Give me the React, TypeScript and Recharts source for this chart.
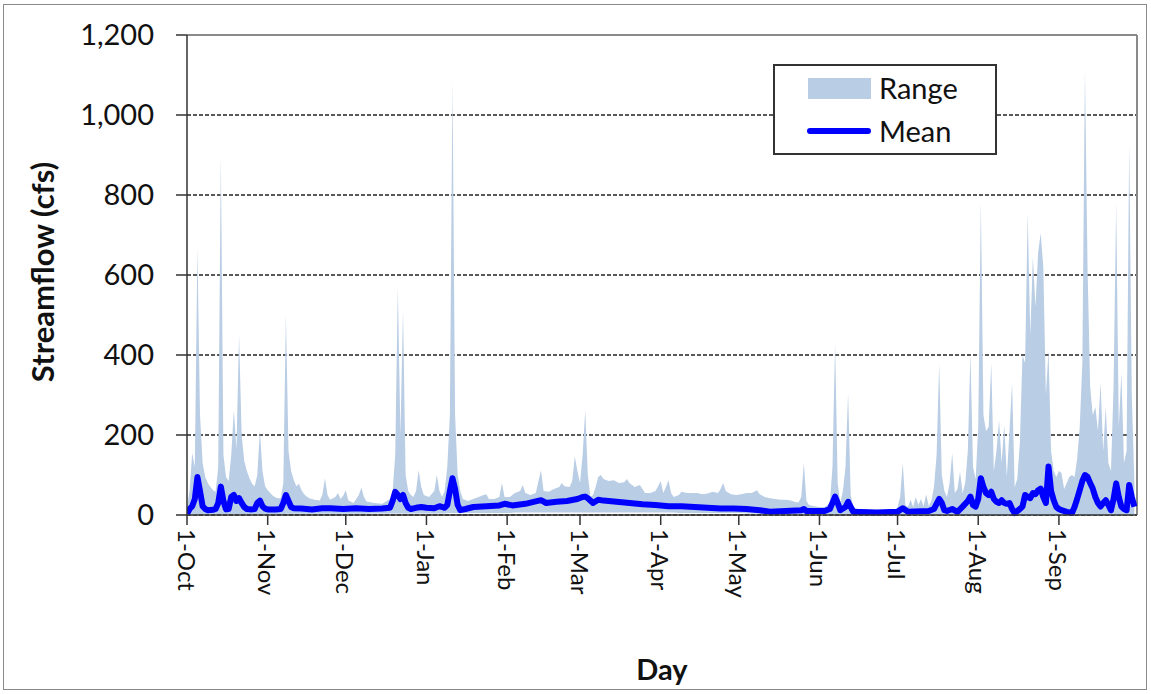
import {
  ComposedChart,
  Area,
  Line,
  XAxis,
  YAxis,
  CartesianGrid,
  ReferenceLine,
} from 'recharts';

// Water-year day index (0 = 1-Oct), month tick positions and labels
const tickDays = [0, 31, 61, 92, 123, 151, 182, 212, 243, 273, 304, 335];
const tickLabels = ['1-Oct', '1-Nov', '1-Dec', '1-Jan', '1-Feb', '1-Mar', '1-Apr', '1-May', '1-Jun', '1-Jul', '1-Aug', '1-Sep'];
const yTicks = [0, 200, 400, 600, 800, 1000, 1200];

// Range (min / max daily streamflow, cfs)
const rangeDays = [
  0, 1, 2, 3, 4, 5, 6, 7, 8, 9, 10, 11, 12, 13, 14, 15, 16, 17, 18, 19, 20, 21, 22, 23, 24, 25, 26, 27, 28, 29,
  30, 31, 32, 33, 34, 35, 36, 37, 38, 39, 40, 41, 42, 43, 44, 45, 46, 47, 49, 51, 52, 53, 54, 55, 57, 58, 59, 60,
  61, 62, 64, 66, 67, 68, 69, 72, 75, 78, 79, 80, 81, 82, 83, 84, 85, 86, 87, 88, 89, 90, 91, 93, 95, 96, 97, 98,
  99, 100, 101, 102, 103, 104, 105, 106, 108, 110, 112, 114, 115, 116, 118, 120, 121, 122, 124, 126, 128, 129,
  130, 132, 134, 136, 137, 139, 141, 143, 144, 145, 147, 148, 149, 150, 151, 152, 153, 154, 155, 156, 157, 158,
  159, 160, 162, 164, 166, 168, 169, 170, 172, 174, 175, 176, 178, 180, 181, 182, 183, 184, 185, 186, 187, 189,
  190, 192, 194, 196, 198, 200, 202, 204, 205, 206, 207, 209, 211, 213, 215, 217, 219, 220, 222, 224, 226, 228,
  230, 232, 234, 235, 236, 237, 238, 239, 241, 243, 245, 247, 248, 249, 250, 251, 252, 253, 254, 255, 256, 258,
  260, 264, 268, 272, 273, 274, 275, 276, 277, 278, 279, 280, 281, 282, 283, 284, 285, 286, 287, 288, 289, 290,
  291, 292, 293, 294, 295, 296, 297, 298, 299, 300, 301, 302, 303, 304, 305, 306, 307, 308, 309, 310, 311, 312,
  313, 314, 315, 316, 317, 318, 319, 320, 321, 322, 323, 324, 325, 326, 327, 328, 329, 330, 331, 332, 333, 334,
  335, 336, 337, 338, 339, 340, 341, 342, 343, 344, 345, 346, 347, 348, 349, 350, 351, 352, 353, 354, 355, 356,
  357, 358, 359, 360, 361, 362, 363, 364,
];
const rangeMax = [
  20, 60, 155, 120, 670, 250, 130, 95, 80, 70, 62, 58, 120, 900, 150, 95, 85, 150, 262, 165, 450, 200, 135, 110, 92, 78, 72, 100, 210, 110,
  72, 62, 55, 48, 44, 42, 42, 80, 500, 160, 110, 88, 72, 78, 62, 52, 46, 42, 38, 36, 50, 92, 50, 38, 45, 55, 40, 48,
  62, 36, 30, 50, 68, 45, 34, 30, 28, 40, 60, 150, 570, 200, 512, 100, 60, 50, 45, 60, 112, 70, 50, 45, 60, 100, 60, 45,
  60, 120, 250, 1085, 250, 100, 60, 40, 35, 40, 45, 50, 52, 40, 40, 45, 80, 45, 45, 55, 60, 75,
  55, 50, 55, 112, 60, 58, 65, 70, 80, 72, 70, 85, 146, 110, 80, 150, 262, 100, 45, 50, 70, 95,
  100, 90, 85, 87, 80, 82, 90, 80, 70, 75, 65, 55, 55, 60, 72, 85, 55, 70, 87, 55, 45, 50,
  58, 55, 55, 55, 52, 54, 58, 55, 65, 80, 60, 52, 50, 52, 55, 55, 62, 52, 45, 42, 40, 38,
  38, 36, 32, 32, 45, 130, 35, 25, 22, 20, 20, 30, 120, 430, 80, 30, 60, 120, 305, 50, 20, 15,
  12, 11, 10, 10, 20, 45, 130, 25, 20, 38, 20, 45, 25, 40, 22, 52, 22, 35, 70, 150, 380, 100,
  60, 45, 80, 155, 55, 65, 108, 55, 80, 160, 405, 120, 90, 220, 785, 250, 210, 220, 380, 110, 160, 237,
  130, 225, 95, 210, 330, 70, 90, 180, 400, 380, 755, 450, 645, 520, 655, 705, 620, 300, 412, 160, 110, 95,
  110, 105, 65, 80, 95, 100, 95, 140, 220, 380, 1112, 620, 320, 250, 270, 210, 330, 160, 270, 130, 110, 320,
  780, 220, 355, 130, 160, 930, 300, 80,
];
const rangeMin = [
  0, 0, 0, 0, 2, 2, 2, 2, 2, 2, 2, 2, 2, 2, 2, 2, 2, 2, 2, 2, 2, 2, 2, 2, 2, 2, 2, 2, 2, 2,
  2, 2, 2, 2, 2, 2, 2, 2, 3, 3, 3, 3, 3, 3, 3, 3, 3, 3, 3, 3, 3, 3, 3, 3, 3, 3, 3, 3,
  3, 3, 3, 3, 3, 3, 3, 4, 4, 4, 4, 4, 4, 4, 4, 4, 4, 4, 4, 4, 4, 4, 4, 4, 4, 4, 4, 4,
  4, 5, 5, 5, 5, 5, 5, 5, 5, 5, 5, 5, 5, 5, 5, 5, 5, 5, 5, 6, 6, 6,
  6, 6, 6, 6, 6, 6, 6, 6, 6, 6, 6, 6, 6, 6, 6, 6, 6, 6, 6, 6, 6, 6,
  6, 6, 6, 6, 6, 6, 6, 6, 6, 6, 6, 6, 6, 6, 6, 6, 6, 6, 6, 6, 6, 5,
  5, 5, 5, 5, 5, 5, 5, 5, 5, 5, 5, 5, 5, 5, 4, 4, 4, 4, 3, 3, 3, 2,
  2, 2, 2, 2, 2, 2, 2, 2, 2, 2, 1, 1, 1, 1, 1, 1, 1, 1, 1, 1, 1, 1,
  0, 0, 0, 0, 0, 0, 0, 0, 0, 0, 0, 0, 0, 0, 0, 0, 0, 0, 0, 0, 0, 0,
  0, 0, 0, 0, 0, 0, 0, 0, 0, 0, 0, 0, 0, 0, 0, 0, 0, 0, 0, 0, 0, 0,
  0, 0, 0, 0, 0, 0, 0, 0, 0, 0, 0, 0, 0, 0, 0, 0, 0, 0, 0, 0, 0, 0,
  0, 0, 0, 0, 0, 0, 0, 0, 0, 0, 0, 0, 0, 0, 0, 0, 0, 0, 0, 0, 0, 0,
  0, 0, 0, 0, 0, 0, 0, 0,
];

// Mean daily streamflow (cfs)
const meanDays = [
  0, 1, 2, 3, 4, 5, 6, 7, 8, 10, 11, 12, 13, 14, 15, 16, 17, 18, 19, 20, 21, 22, 23, 25, 26, 27, 28, 29, 30, 31,
  34, 36, 37, 38, 39, 40, 41, 44, 48, 52, 55, 60, 65, 70, 75, 78, 79, 80, 81, 82, 83, 84, 85, 86, 88, 90, 92,
  95, 97, 99, 100, 101, 102, 103, 104, 105, 107, 110, 115, 120, 122, 125, 130, 136, 138, 142, 146, 150, 152, 153,
  154, 156, 158, 160, 165, 170, 175, 180, 185, 190, 195, 200, 205, 210, 215, 220, 224, 230, 236, 237, 238, 245,
  247, 249, 250, 251, 253, 254, 255, 256, 265, 273, 275, 277, 285, 287, 289, 290, 291, 292, 294, 296, 298, 300,
  301, 302, 303, 304, 305, 306, 307, 308, 309, 310, 311, 312, 313, 314, 315, 316, 317, 318, 319, 320, 321, 322,
  323, 324, 325, 326, 327, 328, 329, 330, 331, 332, 333, 334, 335, 336, 338, 340, 341, 342, 343, 344, 345, 346,
  347, 348, 349, 350, 351, 352, 353, 354, 355, 356, 357, 358, 359, 360, 361, 362, 363, 364,
];
const meanValues = [
  3, 15, 22, 40, 95, 60, 22, 15, 12, 13, 15, 30, 71, 35, 14, 15, 45, 50, 35, 42, 30, 20, 15, 14, 15, 30, 36, 22, 16, 14,
  14, 15, 30, 50, 35, 20, 17, 16, 14, 17, 17, 15, 17, 15, 16, 18, 35, 58, 50, 40, 50, 30, 18, 15, 18, 20, 18,
  17, 22, 18, 25, 60, 92, 65, 25, 12, 15, 20, 22, 24, 28, 24, 28, 37, 30, 33, 35, 40, 45, 46,
  42, 30, 38, 36, 33, 30, 27, 25, 22, 22, 20, 18, 16, 16, 15, 12, 8, 10, 12, 15, 10, 10,
  15, 46, 30, 12, 20, 33, 20, 8, 6, 8, 17, 8, 10, 15, 40, 30, 12, 10, 15, 8, 21, 35,
  46, 25, 21, 40, 92, 70, 55, 50, 58, 40, 33, 30, 37, 30, 28, 30, 15, 5, 10, 15, 21, 50,
  45, 42, 55, 52, 62, 66, 45, 30, 121, 60, 37, 20, 15, 12, 8, 5, 20, 40, 62, 85, 100, 95,
  80, 66, 45, 30, 21, 30, 37, 25, 12, 40, 79, 45, 21, 15, 12, 75, 45, 21,
];

const rangeData = rangeDays.map((day, i) => ({ day, range: [rangeMin[i], rangeMax[i]] }));
const meanData = meanDays.map((day, i) => ({ day, mean: meanValues[i] }));

const FONT = 'Lato, "Open Sans", sans-serif';

const MonthTick = ({ x, y, payload }: any) => (
  <text
    transform={`translate(${x},${y + 2}) rotate(90)`}
    textAnchor="start"
    dominantBaseline="central"
    fontFamily={FONT}
    fontSize={24}
    fill="#111"
  >
    {tickLabels[tickDays.indexOf(payload.value)]}
  </text>
);

const YTitle = ({ viewBox }: any) => {
  const cx = viewBox.x + 42;
  const cy = viewBox.y + viewBox.height / 2 - 3;
  return (
    <text
      x={cx}
      y={cy}
      transform={`rotate(-90, ${cx}, ${cy})`}
      textAnchor="middle"
      dominantBaseline="central"
      fontFamily={FONT}
      fontWeight={700}
      fontSize={31}
      fill="#111"
    >
      Streamflow (cfs)
    </text>
  );
};

const XTitle = ({ viewBox }: any) => (
  <text
    x={viewBox.x + viewBox.width / 2}
    y={viewBox.y + 153}
    textAnchor="middle"
    dominantBaseline="central"
    fontFamily={FONT}
    fontWeight={700}
    fontSize={29}
    fill="#111"
  >
    Day
  </text>
);

// Legend drawn as a boxed overlay inside the plot area (top right)
const LegendBox = () => (
  <div
    style={{
      position: 'absolute',
      left: 773,
      top: 64,
      width: 224,
      height: 91,
      boxSizing: 'border-box',
      border: '2px solid #333',
      background: '#fff',
      fontFamily: FONT,
      fontSize: 29,
      color: '#111',
    }}
  >
    <div style={{ position: 'absolute', left: 33, top: 12, width: 63, height: 21, background: '#b9cde5' }} />
    <div style={{ position: 'absolute', left: 104, top: 5, lineHeight: '34px' }}>Range</div>
    <div style={{ position: 'absolute', left: 32, top: 62, width: 64, height: 6, borderRadius: 3, background: '#0000ff' }} />
    <div style={{ position: 'absolute', left: 104, top: 48, lineHeight: '34px' }}>Mean</div>
  </div>
);

export default function App() {
  return (
    <div style={{ position: 'fixed', left: 0, top: 0, width: 1151, height: 694, background: '#fff' }}>
      <div
        style={{
          position: 'absolute',
          left: 3,
          top: 4,
          width: 1144,
          height: 686,
          border: '1.5px solid #8a8a8a',
          boxSizing: 'border-box',
        }}
      />
      <ComposedChart
        width={1151}
        height={694}
        margin={{ top: 35, right: 14, left: 0, bottom: 0 }}
        style={{ position: 'absolute', left: 0, top: 0 }}
      >
        <CartesianGrid
          horizontal
          vertical={false}
          stroke="#222"
          strokeDasharray="4 2"
          strokeWidth={1.3}
        />
        <XAxis
          dataKey="day"
          type="number"
          domain={[0, 365]}
          ticks={tickDays}
          allowDataOverflow
          height={179}
          tick={<MonthTick />}
          tickSize={10}
          tickLine={{ stroke: '#333', strokeWidth: 1.5 }}
          axisLine={{ stroke: '#333', strokeWidth: 1.5 }}
          interval={0}
          label={<XTitle />}
        />
        <YAxis
          type="number"
          domain={[0, 1200]}
          ticks={yTicks}
          width={187}
          tickSize={11}
          tickMargin={22}
          tickFormatter={(v: number) => v.toLocaleString('en-US')}
          tick={{ fontFamily: FONT, fontSize: 29, fill: '#111' }}
          tickLine={{ stroke: '#333', strokeWidth: 1.5 }}
          axisLine={{ stroke: '#333', strokeWidth: 1.5 }}
          label={<YTitle />}
        />
        <ReferenceLine y={1200} stroke="#8a8a8a" strokeWidth={2} />
        <ReferenceLine x={365} stroke="#8a8a8a" strokeWidth={2} />
        <Area
          data={rangeData}
          dataKey="range"
          type="linear"
          stroke="none"
          fill="#b9cde5"
          fillOpacity={1}
          isAnimationActive={false}
          activeDot={false}
          name="Range"
        />
        <Line
          data={meanData}
          dataKey="mean"
          type="linear"
          stroke="#0000ff"
          strokeWidth={6}
          strokeLinejoin="round"
          dot={false}
          activeDot={false}
          isAnimationActive={false}
          name="Mean"
        />
      </ComposedChart>
      <LegendBox />
    </div>
  );
}
